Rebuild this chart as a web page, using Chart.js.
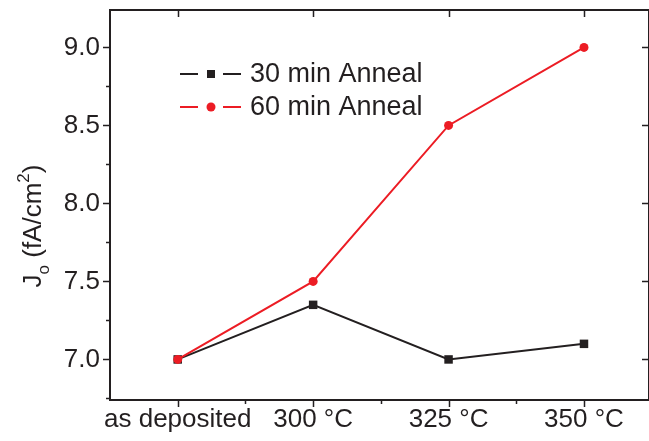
<!DOCTYPE html>
<html>
<head>
<meta charset="utf-8">
<script src="https://cdn.jsdelivr.net/npm/chart.js@4"></script>
<style>
  html, body { margin: 0; padding: 0; background: #fff; }
  #wrap { width: 649px; height: 441px; overflow: hidden; }
</style>
</head>
<body>
<div id="wrap"><canvas id="chart" width="649" height="441"></canvas></div>
<script>
// data
const categories = ['as deposited', '300 \u00B0C', '325 \u00B0C', '350 \u00B0C'];
const anneal30 = [7.0, 7.35, 7.0, 7.1];
const anneal60 = [7.0, 7.5, 8.5, 9.0];
const yTicks = [7.0, 7.5, 8.0, 8.5, 9.0];
const seriesNames = ['30 min Anneal', '60 min Anneal'];

const black = '#231f20',
    red = '#ec1c24';

const font = '"Liberation Sans", Arial, sans-serif';

function toPoints(vals) {
    return vals.map((v, i) => ({ x: i, y: v }));
}

// ticks: outward on left/bottom, inward on top/right; frame, legend, y title
const framePlugin = {
    id: 'frame',
    afterDraw(chart) {
        const ctx = chart.ctx,
            a = chart.chartArea,
            xs = chart.scales.x,
            ys = chart.scales.y;
        ctx.save();
        ctx.strokeStyle = black;
        ctx.lineWidth = 2;
        ctx.strokeRect(a.left, a.top, a.right - a.left, a.bottom - a.top);

        ctx.lineWidth = 1.5;
        ctx.beginPath();
        for (let v = 6.75; v <= 9.24; v += 0.25) {
            let y = Math.round(ys.getPixelForValue(v)) + 0.5;
            let major = Math.abs(v * 2 - Math.round(v * 2)) < 1e-6;
            let len = major ? 7 : 4;
            ctx.moveTo(a.left, y); ctx.lineTo(a.left - len, y);
            if (major) { ctx.moveTo(a.right, y); ctx.lineTo(a.right - 7, y); }
        }
        for (let v = -0.5; v <= 3.5; v += 0.5) {
            let x = Math.round(xs.getPixelForValue(v)) + 0.5;
            if (x <= a.left + 1 || x > a.right) continue;
            let major = Number.isInteger(v);
            let len = major ? 7 : 4;
            ctx.moveTo(x, a.bottom); ctx.lineTo(x, a.bottom + len);
            if (major) { ctx.moveTo(x, a.top); ctx.lineTo(x, a.top + 7); }
        }
        ctx.stroke();

        // legend
        const legendRows = [
            { name: seriesNames[0], color: black, style: 'rect', y: 74 },
            { name: seriesNames[1], color: red, style: 'circle', y: 107 }
        ];
        legendRows.forEach(row => {
            ctx.strokeStyle = row.color;
            ctx.fillStyle = row.color;
            ctx.lineWidth = 2;
            ctx.beginPath();
            ctx.moveTo(180, row.y); ctx.lineTo(198, row.y);
            ctx.moveTo(223, row.y); ctx.lineTo(241, row.y);
            ctx.stroke();
            if (row.style === 'rect') {
                ctx.fillRect(207, row.y - 4, 8, 8);
            } else {
                ctx.beginPath();
                ctx.arc(211, row.y, 4.5, 0, Math.PI * 2);
                ctx.fill();
            }
            ctx.fillStyle = black;
            ctx.font = '27px ' + font;
            ctx.textBaseline = 'middle';
            ctx.textAlign = 'left';
            ctx.fillText(row.name, 250, row.y + 1);
        });

        // y title: J_o (fA/cm^2)
        const parts = [
            ['J', 26, 0], ['o', 17, 8], [' (fA/cm', 26, 0], ['2', 17, -12], [')', 26, 0]
        ];
        let total = 0;
        parts.forEach(p => {
            ctx.font = p[1] + 'px ' + font;
            total += ctx.measureText(p[0]).width;
        });
        ctx.translate(41, 226);
        ctx.rotate(-Math.PI / 2);
        ctx.fillStyle = black;
        ctx.textBaseline = 'alphabetic';
        ctx.textAlign = 'left';
        let x = -total / 2;
        parts.forEach(p => {
            ctx.font = p[1] + 'px ' + font;
            ctx.fillText(p[0], x, p[2]);
            x += ctx.measureText(p[0]).width;
        });
        ctx.restore();
    }
};

const data = {
    datasets: [{
        label: seriesNames[0],
        data: toPoints(anneal30),
        borderColor: black,
        backgroundColor: black,
        pointStyle: 'rect',
        pointRadius: 6,
        pointBorderWidth: 0,
        borderWidth: 2,
        order: 1
    }, {
        label: seriesNames[1],
        data: toPoints(anneal60),
        borderColor: red,
        backgroundColor: red,
        pointStyle: 'circle',
        pointRadius: 4.5,
        pointBorderWidth: 0,
        borderWidth: 2,
        order: 0
    }]
};

const config = {
    type: 'line',
    data: data,
    options: {
        responsive: false,
        animation: false,
        layout: { autoPadding: false, padding: { top: 10, right: -3, left: 0, bottom: 0 } },
        plugins: { legend: { display: false }, tooltip: { enabled: false } },
        scales: {
            x: {
                type: 'linear',
                min: -0.5,
                max: 3.48,
                afterBuildTicks: scale => { scale.ticks = categories.map((c, i) => ({ value: i })); },
                afterFit: scale => {
                    scale.height = 41;
                    scale.paddingLeft = 0;
                    scale.paddingRight = 0;
                },
                ticks: {
                    callback: v => categories[v],
                    color: black,
                    font: { family: font, size: 26 },
                    padding: 4,
                    maxRotation: 0,
                    autoSkip: false
                },
                grid: { display: false, drawTicks: false },
                border: { display: false }
            },
            y: {
                min: 6.74,
                max: 9.24,
                afterBuildTicks: scale => { scale.ticks = yTicks.map(v => ({ value: v })); },
                afterFit: scale => {
                    scale.width = 110;
                    scale.paddingTop = 0;
                    scale.paddingBottom = 0;
                },
                ticks: {
                    callback: v => v.toFixed(1),
                    color: black,
                    font: { family: font, size: 26 },
                    padding: 10
                },
                grid: { display: false, drawTicks: false },
                border: { display: false }
            }
        }
    },
    plugins: [framePlugin]
};

const myChart = new Chart(document.getElementById('chart'), config);
</script>
</body>
</html>
